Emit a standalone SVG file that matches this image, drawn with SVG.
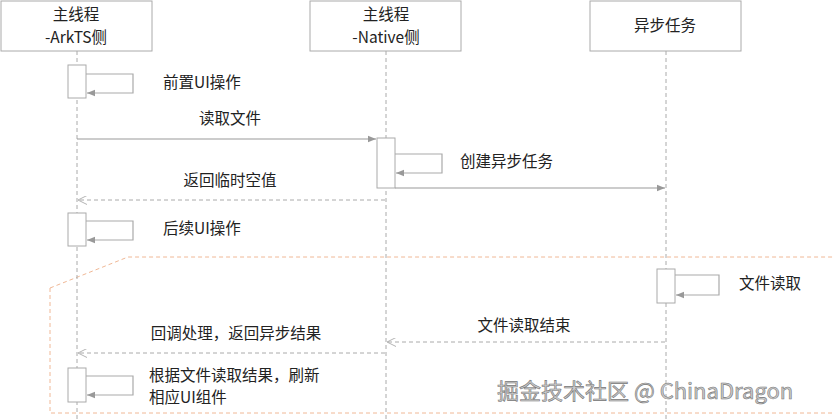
<svg xmlns="http://www.w3.org/2000/svg" width="834" height="420" viewBox="0 0 834 420">
<style>
text{font-family:"Noto Sans CJK SC","Noto Sans",sans-serif;font-size:15.5px;fill:#222}
.hd{fill:#fff;stroke:#aaa;stroke-width:1}
.life{stroke:#aaa;stroke-dasharray:4 3;fill:none}
.act{fill:#fff;stroke:#aaa}
.loop{fill:none;stroke:#aaa;stroke-width:1.2;marker-end:url(#a)}
.msg{stroke:#999;stroke-width:1.2;fill:none;marker-end:url(#a)}
.ret{stroke:#aaa;stroke-width:1;stroke-dasharray:4 3;fill:none;marker-end:url(#o)}
</style>
<defs>
<marker id="a" viewBox="0 0 10 10" refX="10" refY="5" markerWidth="8" markerHeight="8" markerUnits="userSpaceOnUse" orient="auto"><path d="M0,1 L10,5 L0,9 z" fill="#999"/></marker>
<marker id="o" viewBox="0 0 10 10" refX="10" refY="5" markerWidth="9" markerHeight="9" markerUnits="userSpaceOnUse" orient="auto"><path d="M0,0 L10,5 L0,10" fill="none" stroke="#aaa"/></marker>
</defs>
<rect width="834" height="420" fill="#fff"/>
<path d="M50,288 L128,257 L834,257 M50,288 L50,413 L834,413" fill="none" stroke="#f0b896" stroke-dasharray="4 3"/>
<g id="lifelines">
<line class="life" x1="77" y1="51" x2="77" y2="420"/>
<line class="life" x1="386" y1="51" x2="386" y2="420"/>
<line class="life" x1="666" y1="51" x2="666" y2="420"/>
</g>
<g id="arkts"><rect class="hd" x="1" y="1" width="151" height="50"/><text x="76" y="20" text-anchor="middle">主线程</text><text x="76" y="43" text-anchor="middle">-ArkTS侧</text></g>
<g id="native"><rect class="hd" x="310" y="1" width="151" height="50"/><text x="386" y="20" text-anchor="middle">主线程</text><text x="386" y="43" text-anchor="middle">-Native侧</text></g>
<g id="async"><rect class="hd" x="590" y="1" width="151" height="50"/><text x="665" y="31" text-anchor="middle">异步任务</text></g>
<g id="acts">
<rect class="act" x="68" y="65" width="18" height="33"/>
<rect class="act" x="377" y="138" width="18" height="50"/>
<rect class="act" x="68" y="213" width="18" height="33"/>
<rect class="act" x="657" y="269" width="18" height="34"/>
<rect class="act" x="68" y="368" width="18" height="34"/>
</g>
<g id="connectors">
<path class="loop" d="M86,74 H133 V93 H87"/>
<path class="msg" d="M77,139 H376"/>
<path class="loop" d="M395,154 H442 V173 H396"/>
<path class="msg" d="M395,188 H665"/>
<path class="ret" d="M385,200 H78"/>
<path class="loop" d="M86,221 H133 V240 H87"/>
<path class="loop" d="M675,275 H719 V295 H676"/>
<path class="ret" d="M665,342 H387"/>
<path class="ret" d="M385,353 H78"/>
<path class="loop" d="M86,376 H133 V395 H87"/>
</g>
<g id="labels">
<text x="163" y="88">前置UI操作</text>
<text x="230" y="124" text-anchor="middle">读取文件</text>
<text x="460" y="167">创建异步任务</text>
<text x="230" y="186" text-anchor="middle">返回临时空值</text>
<text x="163" y="234">后续UI操作</text>
<text x="739" y="289">文件读取</text>
<text x="524" y="331" text-anchor="middle">文件读取结束</text>
<text x="236" y="339" text-anchor="middle">回调处理，返回异步结果</text>
<text x="149" y="381">根据文件读取结果，刷新</text>
<text x="149" y="403">相应UI组件</text>
</g>
<text x="497" y="399" style="font-size:22px;fill:#ccc;stroke:#777;stroke-width:0.6">掘金技术社区 @ ChinaDragon</text>
</svg>
